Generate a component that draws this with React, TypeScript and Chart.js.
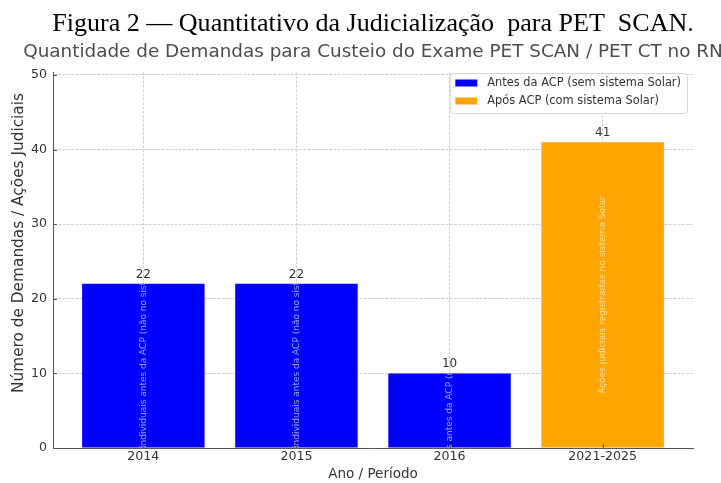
import React, { useEffect, useRef } from 'react';
import { Chart, registerables } from 'chart.js';

Chart.register(...registerables);

// ---- data ----
const categories = ['2014', '2015', '2016', '2021-2025'];
const beforeIndex = [0, 1, 2];
const beforeValues = [22, 22, 10];
const afterIndex = [3];
const afterValues = [41];
const yTickValues = [0, 10, 20, 30, 40, 50];
const seriesLabels = ['Antes da ACP (sem sistema Solar)', 'Após ACP (com sistema Solar)'];
const seriesColors = ['#0000ff', '#ffa500'];
const barNotes = [
  'Demandas individuais antes da ACP (não no sistema Solar)',
  'Ações judiciais registradas no sistema Solar',
];
const headerText = 'Figura 2 — Quantitativo da Judicialização  para PET  SCAN.';
const titleText = 'Quantidade de Demandas para Custeio do Exame PET SCAN / PET CT no RN';
const xTitleText = 'Ano / Período';
const yTitleText = 'Número de Demandas / Ações Judiciais';

const SANS = '"DejaVu Sans", sans-serif';
const SERIF = '"Liberation Serif", "Times New Roman", serif';

function fitSize(ctx: CanvasRenderingContext2D, text: string, width: number, family: string) {
  ctx.font = `100px ${family}`;
  const w = ctx.measureText(text).width;
  return (100 * width) / w;
}

const notesPlugin = {
  id: 'notes',
  beforeDraw(chart: any) {
    const ctx = chart.ctx;
    ctx.save();
    ctx.fillStyle = '#ffffff';
    ctx.fillRect(0, 0, chart.width, chart.height);
    ctx.restore();
  },
  afterDatasetsDraw(chart: any) {
    const ctx: CanvasRenderingContext2D = chart.ctx;
    const yScale = chart.scales.y;
    chart.data.datasets.forEach((ds: any, di: number) => {
      const meta = chart.getDatasetMeta(di);
      meta.data.forEach((bar: any, i: number) => {
        const { x, y, base, width } = bar.getProps(['x', 'y', 'base', 'width'], true);
        const v = ds.data[i].y;
        ctx.save();
        ctx.fillStyle = '#333333';
        ctx.font = `12px ${SANS}`;
        ctx.textAlign = 'center';
        ctx.textBaseline = 'alphabetic';
        ctx.fillText(String(v), x, y - 6);
        ctx.beginPath();
        ctx.rect(x - width / 2, y, width, base - y);
        ctx.clip();
        const mid = yScale.getPixelForValue(v / 2);
        ctx.translate(x, mid);
        ctx.rotate(-Math.PI / 2);
        ctx.fillStyle = 'rgba(255,255,255,0.6)';
        ctx.font = `9px ${SANS}`;
        ctx.textAlign = 'center';
        ctx.textBaseline = 'middle';
        ctx.fillText(barNotes[di], 0, 0);
        ctx.restore();
      });
    });
  },
  afterDraw(chart: any) {
    const ctx: CanvasRenderingContext2D = chart.ctx;
    const area = chart.chartArea;
    const cx = (area.left + area.right) / 2;
    ctx.save();
    // header
    const hs = fitSize(ctx, headerText, 642, SERIF);
    ctx.font = `${hs}px ${SERIF}`;
    ctx.fillStyle = '#000000';
    ctx.textAlign = 'center';
    ctx.textBaseline = 'alphabetic';
    ctx.fillText(headerText, cx, 31);
    // title
    const ts = fitSize(ctx, titleText, 700, SANS);
    ctx.font = `${ts}px ${SANS}`;
    ctx.fillStyle = '#4d4d4d';
    ctx.fillText(titleText, cx, 57);
    // y title
    const ys = fitSize(ctx, yTitleText, 300, SANS);
    ctx.save();
    ctx.translate(19, 243);
    ctx.rotate(-Math.PI / 2);
    ctx.font = `${ys}px ${SANS}`;
    ctx.fillStyle = '#333333';
    ctx.textBaseline = 'middle';
    ctx.fillText(yTitleText, 0, 0);
    ctx.restore();
    // inward ticks
    ctx.strokeStyle = '#555555';
    ctx.lineWidth = 1;
    const ys2 = chart.scales.y;
    yTickValues.forEach((v) => {
      const py = Math.round(ys2.getPixelForValue(v)) + 0.5;
      ctx.beginPath();
      ctx.moveTo(area.left, py);
      ctx.lineTo(area.left + 4, py);
      ctx.stroke();
    });
    const xs = chart.scales.x;
    categories.forEach((_, i) => {
      const px = Math.round(xs.getPixelForValue(i)) + 0.5;
      ctx.beginPath();
      ctx.moveTo(px, area.bottom);
      ctx.lineTo(px, area.bottom - 4);
      ctx.stroke();
    });
    // legend
    ctx.font = `11.4px ${SANS}`;
    const tw = Math.max(...seriesLabels.map((t) => ctx.measureText(t).width));
    const bw = tw + 43;
    const bx = area.right - 6 - bw;
    const by = area.top + 1;
    const bh = 40;
    ctx.beginPath();
    (ctx as any).roundRect(bx + 0.5, by + 0.5, bw, bh, 3);
    ctx.fillStyle = 'rgba(255,255,255,0.85)';
    ctx.fill();
    ctx.strokeStyle = '#d6d6d6';
    ctx.stroke();
    seriesLabels.forEach((t, i) => {
      const ry = by + 10 + i * 18;
      ctx.fillStyle = seriesColors[i];
      ctx.fillRect(bx + 5, ry - 3.5, 22, 7);
      ctx.fillStyle = '#333333';
      ctx.textAlign = 'left';
      ctx.textBaseline = 'middle';
      ctx.fillText(t, bx + 37, ry);
    });
    ctx.restore();
  },
};

export default function App() {
  const ref = useRef<HTMLCanvasElement | null>(null);
  useEffect(() => {
    if (!ref.current) return;
    const gridColor = 'rgba(176,176,176,0.6)';
    const chart = new Chart(ref.current, {
      type: 'bar',
      data: {
        datasets: [
          {
            label: seriesLabels[0],
            data: beforeIndex.map((x, i) => ({ x, y: beforeValues[i] })),
            backgroundColor: seriesColors[0],
            grouped: false,
            barPercentage: 0.8,
            categoryPercentage: 1,
          },
          {
            label: seriesLabels[1],
            data: afterIndex.map((x, i) => ({ x, y: afterValues[i] })),
            backgroundColor: seriesColors[1],
            grouped: false,
            barPercentage: 0.8,
            categoryPercentage: 1,
          },
        ] as any,
      },
      options: {
        responsive: false,
        animation: false,
        devicePixelRatio: 1,
        events: [],
        layout: { padding: { top: 72, left: 0, right: 28, bottom: 0 } },
        plugins: {
          legend: { display: false },
          tooltip: { enabled: false },
          title: { display: false },
        },
        scales: {
          x: {
            type: 'linear',
            min: -0.59,
            max: 3.59,
            offset: false,
            z: 1,
            afterBuildTicks: (s: any) => {
              s.ticks = categories.map((_, i) => ({ value: i }));
            },
            afterFit: (s: any) => {
              s.height = 35;
            },
            ticks: {
              callback: (v: any) => categories[v] ?? '',
              font: { family: SANS, size: 12.6 },
              color: '#333333',
              padding: 1,
              maxRotation: 0,
              autoSkip: false,
            },
            grid: { color: gridColor, drawTicks: false, lineWidth: 1, offset: false },
            border: { display: true, color: '#555555', width: 1, dash: [3, 1.3] },
            title: {
              display: true,
              text: xTitleText,
              font: { family: SANS, size: 13.5 },
              color: '#333333',
              padding: 0,
            },
          } as any,
          y: {
            type: 'linear',
            min: 0,
            max: 50.4,
            z: 1,
            afterBuildTicks: (s: any) => {
              s.ticks = yTickValues.map((v) => ({ value: v }));
            },
            afterFit: (s: any) => {
              s.width = 53;
            },
            ticks: {
              font: { family: SANS, size: 12.6 },
              color: '#333333',
              padding: 6,
            },
            grid: { color: gridColor, drawTicks: false, lineWidth: 1 },
            border: { display: true, color: '#555555', width: 1, dash: [3, 1.3] },
          } as any,
        },
      },
      plugins: [notesPlugin as any],
    });
    return () => chart.destroy();
  }, []);
  return (
    <div style={{ position: 'fixed', left: 0, top: 0, width: 721, height: 483, background: '#fff' }}>
      <canvas ref={ref} width={721} height={483} style={{ display: 'block' }} />
    </div>
  );
}
